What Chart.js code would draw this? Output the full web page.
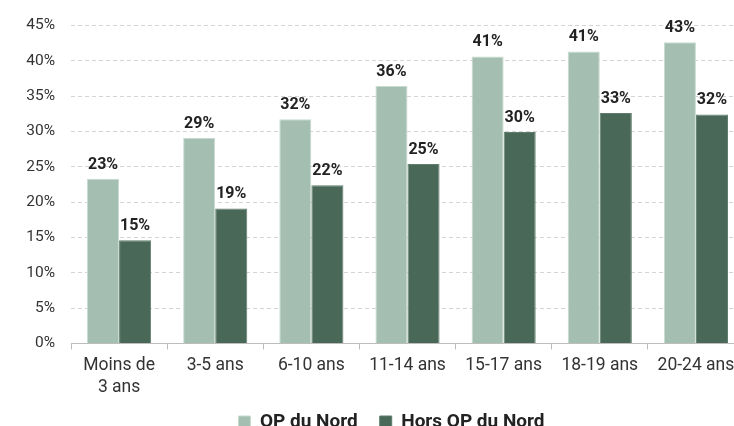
<!DOCTYPE html>
<html>
<head>
<meta charset="utf-8">
<script src="https://cdn.jsdelivr.net/npm/chart.js@4/dist/chart.umd.min.js"></script>
<style>
html,body{margin:0;padding:0;background:#fff;overflow:hidden;}
#wrap{width:783px;height:455px;position:relative;}
</style>
</head>
<body>
<div id="wrap"><canvas id="c"></canvas></div>
<script>
const categories = [["Moins de","3 ans"],"3-5 ans","6-10 ans","11-14 ans","15-17 ans","18-19 ans","20-24 ans"];
const qpNord = [23.3, 29.1, 31.7, 36.4, 40.6, 41.3, 42.6];
const horsQpNord = [14.6, 19.1, 22.4, 25.4, 29.9, 32.6, 32.4];
const seriesNames = ["QP du Nord", "Hors QP du Nord"];
const yTicks = [0,5,10,15,20,25,30,35,40,45];

const valueLabels = {
  id: 'valueLabels',
  afterDatasetsDraw(chart) {
    const ctx = chart.ctx;
    ctx.save();
    ctx.font = 'bold 16px Roboto';
    ctx.fillStyle = '#222';
    ctx.textAlign = 'center';
    ctx.textBaseline = 'alphabetic';
    chart.data.datasets.forEach((ds, i) => {
      chart.getDatasetMeta(i).data.forEach((bar, j) => {
        ctx.fillText(Math.round(ds.data[j]) + '%', bar.x, bar.y - 10);
      });
    });
    ctx.restore();
  }
};

const legendShift = {
  id: 'legendShift',
  afterLayout(chart) {
    const lg = chart.legend;
    if (!lg) return;
    lg.left += 6.5; lg.right += 6.5;
    lg.top -= 13.5; lg.bottom -= 13.5;
  }
};

new Chart(document.getElementById('c'), {
  type: 'bar',
  data: {
    labels: categories,
    datasets: [
      {label: seriesNames[0], data: qpNord, backgroundColor: '#a4bfb1', borderColor: '#c8dbd1', borderWidth: 1},
      {label: seriesNames[1], data: horsQpNord, backgroundColor: '#4a6858', borderColor: '#5f7d6d', borderWidth: 1}
    ]
  },
  options: {
    responsive: true,
    maintainAspectRatio: false,
    animation: false,
    layout: {padding: {left: 26, right: 39, top: 16, bottom: 0}},
    datasets: {bar: {categoryPercentage: 0.667, barPercentage: 1}},
    plugins: {
      legend: {
        position: 'bottom',
        labels: {
          font: {family: 'Roboto', size: 19, weight: 'bold'},
          color: '#222',
          boxWidth: 12, boxHeight: 12,
          padding: 22
        }
      },
      tooltip: {enabled: false}
    },
    scales: {
      x: {
        grid: {offset: true, drawOnChartArea: false, color: '#bdbdbd', tickLength: 6},
        border: {color: '#bdbdbd'},
        ticks: {font: {family: 'Roboto', size: 17.5, lineHeight: 1.27}, color: '#333', padding: 5, maxRotation: 0, autoSkip: false}
      },
      y: {
        min: 0, max: 45,
        afterBuildTicks(axis) { axis.ticks = yTicks.map(v => ({value: v})); },
        afterFit(axis) { axis.width = 45; },
        grid: {color: '#d4d4d4', drawTicks: false},
        border: {display: false, dash: [4,3]},
        ticks: {font: {family: 'Roboto', size: 15.5}, color: '#333', padding: 16, callback: v => v + '%'}
      }
    }
  },
  plugins: [valueLabels, legendShift]
});
</script>
</body>
</html>
